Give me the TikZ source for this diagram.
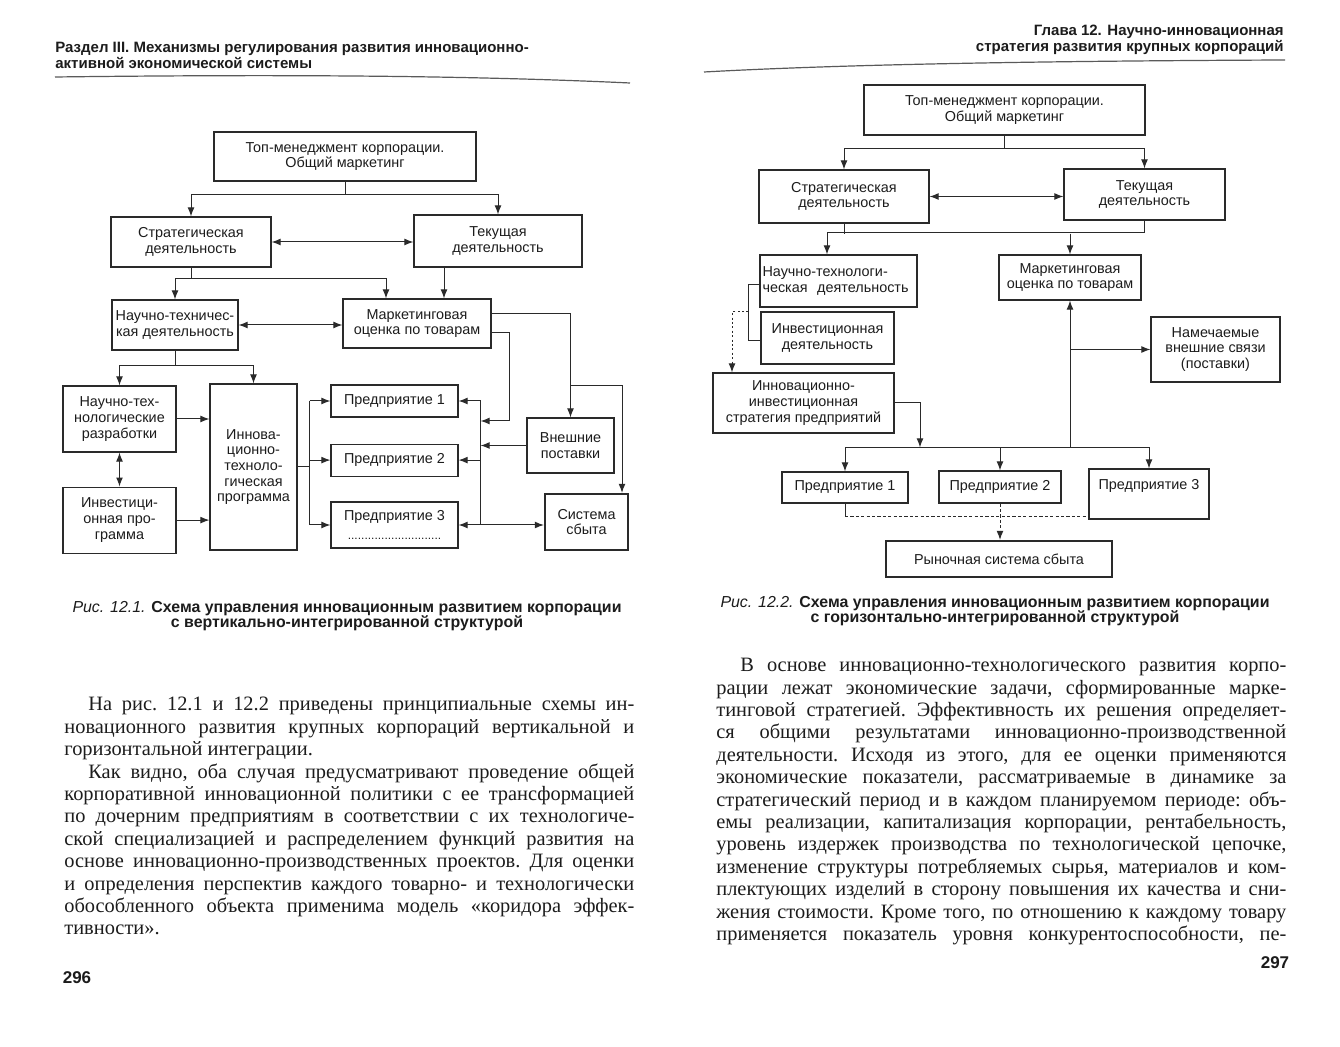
\documentclass[tikz,border=0pt]{standalone}
\usepackage{fontspec}
\setmainfont{Liberation Serif}
\newfontfamily\sansfam{Liberation Sans}
\usetikzlibrary{arrows.meta,positioning,calc}
\definecolor{ink}{HTML}{1C1C1C}
\definecolor{wire}{HTML}{2A2A2A}
\definecolor{rulec}{HTML}{5A5A5A}
\newcommand\dgfont{\sansfam\fontsize{7.2}{7.8}\selectfont}
\newcommand\hdfont{\sansfam\bfseries\fontsize{7.5}{8}\selectfont}
\newcommand\capfont{\sansfam\fontsize{7.95}{7.6}\selectfont}
\newcommand\txtfont{\fontsize{10.2}{11.2}\selectfont\frenchspacing}
\newcommand\pgnfont{\sansfam\bfseries\fontsize{8.5}{8.5}\selectfont}
\newcommand\jl[1]{{\spaceskip=0pt\xspaceskip=0pt\makebox[285pt][s]{#1}}}
\newcommand\jli[1]{\hspace*{12pt}{\spaceskip=0pt\xspaceskip=0pt\makebox[273pt][s]{#1}}}
\newcommand\jn[1]{{\spaceskip=0pt\xspaceskip=0pt #1}}
\tikzset{
  blk/.style={draw=wire, line width=0.55pt, fill=white, inner sep=0pt,
              align=center, font=\dgfont, text=ink},
  blkb/.style={blk, line width=1.1pt},
  sz/.style 2 args={minimum width=#1*0.5pt, minimum height=#2*0.5pt},
  ln/.style={draw=wire, line width=0.5pt},
  arr/.style={ln, -{Latex[length=4.5pt,width=3.4pt]}},
  darr/.style={ln, {Latex[length=4.5pt,width=3.4pt]}-{Latex[length=4.5pt,width=3.4pt]}},
  dsh/.style={ln, dash pattern=on 1.6pt off 1.1pt},
  dsharr/.style={dsh, -{Latex[length=4.5pt,width=3.4pt]}},
  hd/.style={inner sep=0pt, font=\hdfont, text=ink},
  figcap/.style={inner sep=0pt, align=center, font=\capfont, text=ink},
  txt/.style={inner sep=0pt, align=left, text width=285pt, font=\txtfont, text=ink},
  rul/.style={draw=rulec, line width=0.6pt},
}
\begin{document}
\begin{tikzpicture}[x=0.5pt,y=-0.5pt]
\useasboundingbox[fill=white] (0,0) rectangle (1340,1047);

% running heads
\node[hd, anchor=north west, align=left] (lHead) at (55,41.5)
  {Раздел III. Механизмы регулирования развития инновационно-\\активной экономической системы};
\node[hd, anchor=north east, align=right] (rHead) at (1284,24.5)
  {Глава 12. Научно-инновационная\\стратегия развития крупных корпораций};
\draw[rul] (55,77) .. controls (300,74) and (480,76) .. (630,83);
\draw[rul] (704,72) .. controls (850,64) and (1050,61) .. (1285,60);

% ---------- fig. 12.1 ----------
\node[blk, sz={262}{49}] (lTop) at (345,156.5) {Топ-менеджмент корпорации.\\Общий маркетинг};
\node[blk, sz={160}{50}] (lStrat) at (191,242) {Стратегическая\\деятельность};
\node[blk, sz={168}{52}] (lCur) at (498,241) {Текущая\\деятельность};
\node[blk, sz={126}{50}] (lNT) at (175,325) {Научно-техничес-\\кая деятельность};
\node[blk, sz={148}{49}] (lMark) at (417,323.5) {Маркетинговая\\оценка по товарам};
\node[blk, sz={113}{66}] (lNTR) at (119.5,419) {Научно-тех-\\нологические\\разработки};
\node[blk, sz={113}{66}, below=17pt of lNTR] (lInv) {Инвестици-\\онная про-\\грамма};
\node[blk, sz={87}{166}] (lITP) at (253.5,467) {Иннова-\\ционно-\\техноло-\\гическая\\программа};
\node[blk, sz={127}{32}] (lP1) at (394.5,401) {Предприятие 1};
\node[blk, sz={127}{32}, below=13pt of lP1] (lP2) {Предприятие 2};
\node[blk, sz={127}{46}] (lP3) at (394.5,525)
  {Предприятие 3\\[1.5pt]{\fontsize{6}{6}\selectfont ............................}};
\node[blk, sz={87}{55}] (lExt) at (570.5,445.5) {Внешние\\поставки};
\node[blkb, sz={83}{56}] (lSales) at (586.5,522) {Система\\сбыта};

\draw[ln] (lTop.south) -- ++(0,12.5) coordinate (lj1);
\draw[arr] (lj1) -| (lStrat.north);
\draw[arr] (lj1) -| (lCur.north);
\draw[darr] (lStrat.east) -- (lStrat.east -| lCur.west);
\draw[ln] (lStrat.south) -- ++(0,11) coordinate (lj2);
\draw[arr] (lj2) -| (lNT.north);
\draw[arr] (lj2) -| ($(lMark.north)+(-31,0)$);
\coordinate (lCurOut) at ($(lCur.south)+(-54,0)$);
\draw[arr] (lCurOut) -- (lCurOut |- lMark.north);
\draw[darr] (lNT.east) -- (lNT.east -| lMark.west);
\draw[ln] (lNT.south) -- ++(0,15) coordinate (lj3);
\draw[arr] (lj3) -| (lNTR.north);
\draw[arr] (lj3) -| (lITP.north);
\draw[darr] (lNTR.south) -- (lInv.north);
\draw[arr] (lNTR.east) -- (lNTR.east -| lITP.west);
\draw[arr] (lInv.east) -- (lInv.east -| lITP.west);
% left bus to the enterprises
\coordinate (lbus) at ($(lITP.east)+(12,0)$);
\draw[ln] (lITP.east) -- (lbus);
\draw[ln] (lbus |- lP1.west) -- (lbus |- lP3.west);
\foreach \p in {lP1,lP2,lP3}
  \draw[arr] (lbus |- \p.west) -- (\p.west);
% right bus
\coordinate (lrb) at ($(lP1.east)+(22,0)$);
\draw[ln] (lrb) -- (lrb |- lP3.east);
\foreach \p in {lP1,lP2,lP3}
  \draw[arr] (lrb |- \p.east) -- (\p.east);
\draw[arr] (lrb |- lP3.east) -- (lP3.east -| lSales.west);
\draw[arr] ($(lMark.east)+(0,-9.5)$) -| (lExt.north);
\coordinate (lmk) at ($(lExt.north)+(0,-32)$);
\draw[arr] (lmk) -| ($(lSales.north)+(35.5,0)$);
\draw[arr] ($(lMark.east)+(0,9.5)$) -- ++(18,0) -- ++(0,88) -- ++(-29,0);
\draw[arr] (lExt.west) -- (lExt.west -| lrb);

\node[figcap, anchor=north] (lCap) at (347,601)
  {{\itshape Рис. 12.1.} \textbf{Схема управления инновационным развитием корпорации}\\
   \textbf{с вертикально-интегрированной структурой}};

% ---------- fig. 12.2 ----------
\node[blk, sz={281}{50}] (rTop) at (1004.5,110) {Топ-менеджмент корпорации.\\Общий маркетинг};
\node[blk, sz={170}{53}] (rStrat) at (844,196.5) {Стратегическая\\деятельность};
\node[blk, sz={161}{51}] (rCur) at (1144.5,194.5) {Текущая\\деятельность};
\node[blk, sz={157}{52}, text width=76pt, align=left] (rNT) at (838.5,281)
  {Научно-технологи-\\ческая\ \ деятельность};
\node[blk, sz={133}{52}] (rInv) at (827.5,338) {Инвестиционная\\деятельность};
\node[blk, sz={181}{60}] (rITS) at (803.5,403) {Инновационно-\\инвестиционная\\стратегия предприятий};
\node[blk, sz={142}{45}] (rMark) at (1070,277.5) {Маркетинговая\\оценка по товарам};
\node[blk, sz={129}{65}] (rPlan) at (1215.5,349.5) {Намечаемые\\внешние связи\\(поставки)};
\node[blk, sz={126}{31}] (rP1) at (845,487.5) {Предприятие 1};
\node[blk, sz={122}{32}] (rP2) at (1000,487) {Предприятие 2};
\node[blk, sz={120}{50}] (rP3) at (1149,494) {Предприятие 3\\[2pt]~};
\node[blkb, sz={226}{36}] (rMkt) at (999,559) {Рыночная система сбыта};

\draw[ln] (rTop.south) -- ++(0,13) coordinate (rj1);
\draw[arr] (rj1) -| (rStrat.north);
\draw[arr] (rj1) -| (rCur.north);
\draw[darr] (rStrat.east) -- (rStrat.east -| rCur.west);
\coordinate (rj2) at ($(rStrat.south)+(0,10)$);
\coordinate (rj2l) at ($(rNT.north)+(-11.5,-22)$);
\draw[ln] (rStrat.south) -- (rj2);
\draw[arr] (rCur.south) |- (rj2l) -- ($(rNT.north)+(-11.5,0)$);
\draw[arr] (rj2 -| rMark.north) -- (rMark.north);
% bracket and dotted feed
\draw[ln] ($(rNT.west)+(0,4)$) -- ++(-11,0) coordinate (rbr) |- ($(rInv.west)+(0,3)$);
\draw[dsharr, dash pattern=on 1pt off 1.2pt] ($(rbr)+(0,27)$) -| ($(rITS.north)+(-71.5,0)$);
% bus over the enterprises
\coordinate (rj3) at ($(rP2.north)+(0,-23)$);
\draw[ln] (rj3 -| rP1.north) -- (rj3 -| rP3.north);
\foreach \p in {rP1,rP2,rP3}
  \draw[arr] (rj3 -| \p.north) -- (\p.north);
\draw[arr] (rITS.east) -| ($(rj3)+(-80,0)$);
\draw[arr] (rj3 -| rMark.south) -- (rMark.south);
\draw[arr] (rMark.south |- rPlan.west) -- (rPlan.west);
\draw[ln] (rP1.south) -- ++(0,13) coordinate (rj4);
\draw[dsh] (rj4) -- (rj4 -| rP3.west);
\draw[dsharr] (rP2.south) -- (rP2.south |- rMkt.north);

\node[figcap, anchor=north] (rCap) at (995,596)
  {{\itshape Рис. 12.2.} \textbf{Схема управления инновационным развитием корпорации}\\
   \textbf{с горизонтально-интегрированной структурой}};

% ---------- body text ----------
\node[txt, anchor=north west] (lBody) at (64,697)
  {\jli{На рис. 12.1 и 12.2 приведены принципиальные схемы ин-}\\
   \jl{новационного развития крупных корпораций вертикальной и}\\
   \jn{горизонтальной интеграции.}\\
   \jli{Как видно, оба случая предусматривают проведение общей}\\
   \jl{корпоративной инновационной политики с ее трансформацией}\\
   \jl{по дочерним предприятиям в соответствии с их технологиче-}\\
   \jl{ской специализацией и распределением функций развития на}\\
   \jl{основе инновационно-производственных проектов. Для оценки}\\
   \jl{и определения перспектив каждого товарно- и технологически}\\
   \jl{обособленного объекта применима модель «коридора эффек-}\\
   \jn{тивности».}};
\node[txt, anchor=north west] (rBody) at (716,658)
  {\jli{В основе инновационно-технологического развития корпо-}\\
   \jl{рации лежат экономические задачи, сформированные марке-}\\
   \jl{тинговой стратегией. Эффективность их решения определяет-}\\
   \jl{ся общими результатами инновационно-производственной}\\
   \jl{деятельности. Исходя из этого, для ее оценки применяются}\\
   \jl{экономические показатели, рассматриваемые в динамике за}\\
   \jl{стратегический период и в каждом планируемом периоде: объ-}\\
   \jl{емы реализации, капитализация корпорации, рентабельность,}\\
   \jl{уровень издержек производства по технологической цепочке,}\\
   \jl{изменение структуры потребляемых сырья, материалов и ком-}\\
   \jl{плектующих изделий в сторону повышения их качества и сни-}\\
   \jl{жения стоимости. Кроме того, по отношению к каждому товару}\\
   \jl{применяется показатель уровня конкурентоспособности, пе-}};

% page numbers
\node[inner sep=0pt, font=\pgnfont, text=ink] (lPage) at (77,978) {296};
\node[inner sep=0pt, font=\pgnfont, text=ink] (rPage) at (1275,963) {297};
\end{tikzpicture}
\end{document}
